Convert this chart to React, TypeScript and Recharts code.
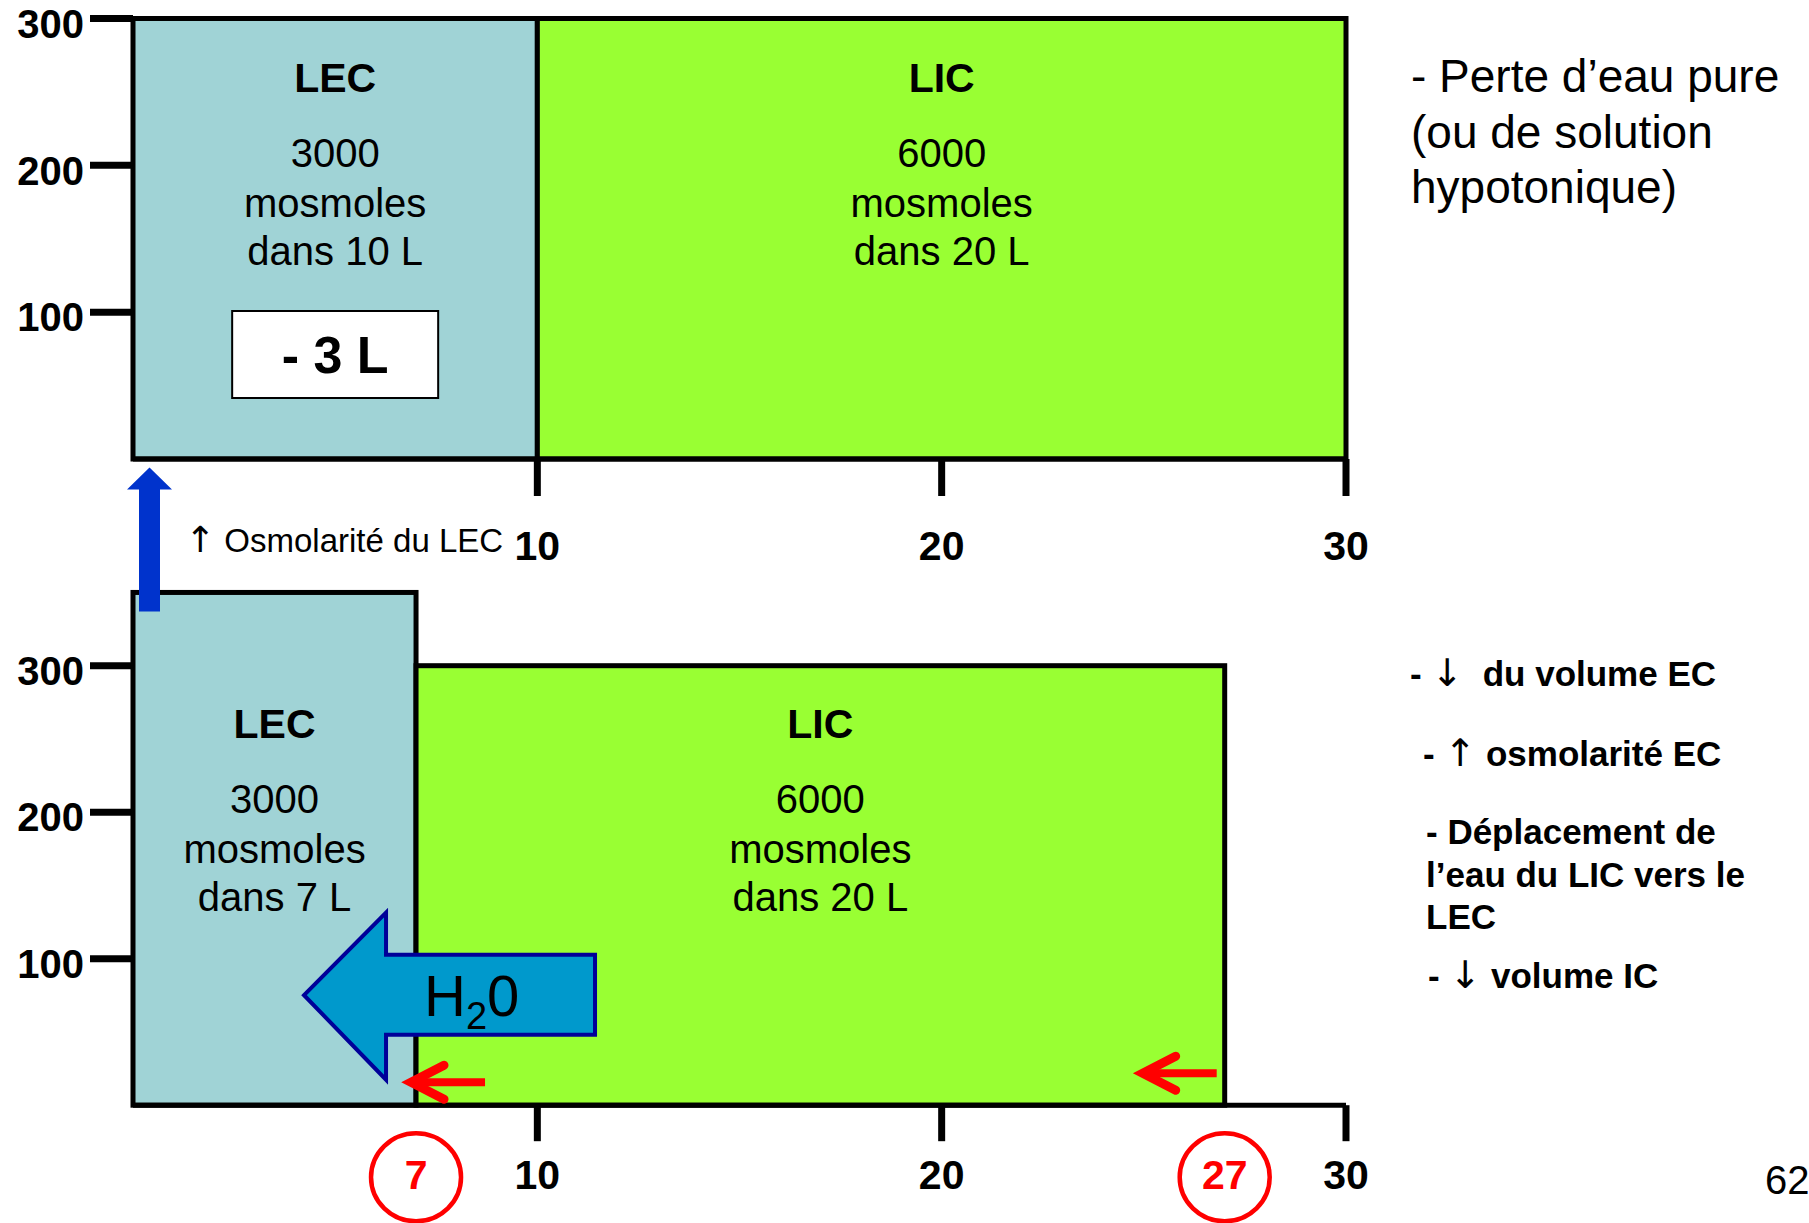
import React from 'react';
import { ComposedChart, XAxis, YAxis, ReferenceArea, ReferenceDot } from 'recharts';

// ---------------- data ----------------
const compartments = ['LEC', 'LIC'];
const compartmentColors = ['#A0D3D6', '#99FF33'];
const osmoles = [3000, 6000]; // mosmoles
const volumesBefore = [10, 20]; // L
const volumesAfter = [7, 20]; // L
const osmolarityBefore = [300, 300];
const osmolarityAfter = [350, 300]; // LEC
const waterLoss = 3; // L
const xTicks = [10, 20, 30];
const yTicks = [100, 200, 300];
const xDomain: [number, number] = [0, 30];
const yDomain: [number, number] = [0, 300];
const notesTop = ['- Perte d\u2019eau pure', '(ou de solution', 'hypotonique)'];
const notesBottom = [
  '- \u2193  du volume EC',
  '- \u2191 osmolarit\u00e9 EC',
  '- D\u00e9placement de',
  'l\u2019eau du LIC vers le',
  'LEC',
  '- \u2193 volume IC',
];
const osmoNote = '\u2191 Osmolarit\u00e9 du LEC';
const slideNumber = '62';

// ---------------- layout / style ----------------
const FONT = '"Liberation Sans", Arial, Helvetica, sans-serif';
const ARROW_FONT = '"DejaVu Sans", sans-serif';
const W = 1809;
const H = 1223;
const PLOT_LEFT = 133;
const PLOT_RIGHT = 1346;
const notesBottomX = [1410, 1423, 1426, 1426, 1426, 1428];
const notesBottomY = [686, 766, 844, 887, 929, 988];
const notesTopY = [92, 148, 203];

const edges = (vols: number[]) =>
  vols.reduce<number[]>((acc, v) => [...acc, acc[acc.length - 1] + v], [0]);

const edgesBefore = edges(volumesBefore); // [0,10,30]
const edgesAfter = edges(volumesAfter); // [0,7,27]

type Box = { name: string; x1: number; x2: number; y2: number; osm: number; vol: number; fill: string };

const boxesTop: Box[] = compartments.map((name, i) => ({
  name,
  x1: edgesBefore[i],
  x2: edgesBefore[i + 1],
  y2: osmolarityBefore[i],
  osm: osmoles[i],
  vol: volumesBefore[i],
  fill: compartmentColors[i],
}));

const boxesBottom: Box[] = compartments.map((name, i) => ({
  name,
  x1: edgesAfter[i],
  x2: edgesAfter[i + 1],
  y2: osmolarityAfter[i],
  osm: osmoles[i],
  vol: volumesAfter[i],
  fill: compartmentColors[i],
}));

const shiftedEdges = edgesAfter.slice(1); // [7, 27]
const bottomTicks = [...shiftedEdges, ...xTicks].sort((a, b) => a - b);

// render a string, drawing arrow glyphs with a font that has tall arrows
const withArrows = (t: string, arrowSize: number) =>
  t.split(/([\u2191\u2193])/).map((part, k) =>
    part === '\u2191' || part === '\u2193' ? (
      <tspan key={k} fontFamily={ARROW_FONT} fontWeight="normal" fontSize={arrowSize}>
        {part}
      </tspan>
    ) : (
      <tspan key={k}>{part}</tspan>
    )
  );

const renderBox = (box: Box, withLoss: boolean) => (p: any) => {
  const { x, y, width, height } = p;
  const cx = x + width / 2;
  const bottom = y + height;
  const lines = [`${box.osm}`, 'mosmoles', `dans ${box.vol} L`];
  const offs = [306, 256, 208];
  return (
    <g>
      <rect x={x} y={y} width={width} height={height} fill={box.fill} stroke="#000" strokeWidth={5} />
      <text x={cx} y={bottom - 381} textAnchor="middle" dominantBaseline="central" fontFamily={FONT} fontWeight="bold" fontSize={41} fill="#000">
        {box.name}
      </text>
      {lines.map((t, k) => (
        <text key={k} x={cx} y={bottom - offs[k]} textAnchor="middle" dominantBaseline="central" fontFamily={FONT} fontSize={40} fill="#000">
          {t}
        </text>
      ))}
      {withLoss && (
        <g>
          <rect x={cx - 103} y={bottom - 148} width={206} height={87} fill="#fff" stroke="#000" strokeWidth={2} />
          <text x={cx} y={bottom - 104} textAnchor="middle" dominantBaseline="central" fontFamily={FONT} fontWeight="bold" fontSize={52} fill="#000">
            {`- ${waterLoss} L`}
          </text>
        </g>
      )}
    </g>
  );
};

const makeXTick = (lineLen: number, labelDy: number, highlighted: number[]) => (props: any) => {
  const { x, y, payload } = props;
  const v = payload.value;
  if (highlighted.includes(v)) {
    return (
      <g>
        <ellipse cx={x} cy={y + labelDy + 2} rx={45} ry={44} fill="none" stroke="#FF0000" strokeWidth={4.5} />
        <text x={x} y={y + labelDy} textAnchor="middle" dominantBaseline="central" fontFamily={FONT} fontWeight="bold" fontSize={41} fill="#FF0000">
          {v}
        </text>
      </g>
    );
  }
  return (
    <g>
      <line x1={x} y1={y} x2={x} y2={y + lineLen} stroke="#000" strokeWidth={7} />
      <text x={x} y={y + labelDy} textAnchor="middle" dominantBaseline="central" fontFamily={FONT} fontWeight="bold" fontSize={41} fill="#000">
        {v}
      </text>
    </g>
  );
};

const WaterArrow = (p: any) => {
  const { cx, cy } = p;
  const pts = [
    [cx - 112, cy - 110],
    [cx - 30, cy - 192.5],
    [cx - 30, cy - 150.5],
    [cx + 179, cy - 150.5],
    [cx + 179, cy - 70.5],
    [cx - 30, cy - 70.5],
    [cx - 30, cy - 25.5],
  ]
    .map((q) => q.join(','))
    .join(' ');
  return (
    <g>
      <polygon points={pts} fill="#0099CC" stroke="#000099" strokeWidth={4} strokeLinejoin="miter" />
      <text x={cx + 8} y={cy - 89} fontFamily={FONT} fontSize={58} fill="#000">
        <tspan>H</tspan>
        <tspan fontSize={38} dy={13}>2</tspan>
        <tspan dy={-13}>0</tspan>
      </text>
    </g>
  );
};

const makeRedArrow = (tipDx: number, tailDx: number, dy: number) => (p: any) => {
  const { cx, cy } = p;
  const ty = cy + dy;
  const tx = cx + tipDx;
  return (
    <g stroke="#FF0000" strokeLinecap="round" fill="none">
      <line x1={tx + 4} y1={ty} x2={cx + tailDx} y2={ty} strokeWidth={8} strokeLinecap="butt" />
      <polyline points={`${tx + 33},${ty - 17} ${tx},${ty} ${tx + 33},${ty + 17}`} strokeWidth={9} strokeLinejoin="miter" />
    </g>
  );
};

const OsmoArrow = (p: any) => {
  const { cx, cy } = p;
  const pts = [
    [cx + 6, cy + 19],
    [cx + 6, cy - 103],
    [cx - 6, cy - 103],
    [cx + 16.5, cy - 125],
    [cx + 39, cy - 103],
    [cx + 27, cy - 103],
    [cx + 27, cy + 19],
  ]
    .map((q) => q.join(','))
    .join(' ');
  return (
    <g>
      <polygon points={pts} fill="#0033CC" stroke="none" />
      <text x={cx + 52} y={cy - 40} fontFamily={FONT} fontSize={33} fill="#000" style={{ whiteSpace: 'pre' }}>
        {withArrows(osmoNote, 36)}
      </text>
    </g>
  );
};

const yAxisProps = {
  type: 'number' as const,
  domain: yDomain,
  ticks: yTicks,
  width: PLOT_LEFT,
  axisLine: false,
  stroke: '#000',
  tickSize: 43,
  tickMargin: 6,
  tickLine: { stroke: '#000', strokeWidth: 7 },
  tick: { fill: '#000', fontSize: 40, fontWeight: 'bold', fontFamily: FONT, dy: 5 },
  allowDataOverflow: true,
  interval: 0 as const,
};

const TopChart = () => (
  <ComposedChart width={W} height={600} margin={{ top: 18.5, right: W - PLOT_RIGHT, bottom: 0, left: 0 }}>
    <XAxis
      type="number"
      dataKey="x"
      domain={xDomain}
      ticks={xTicks}
      height={141}
      interval={0}
      allowDataOverflow
      axisLine={{ stroke: '#000', strokeWidth: 5 }}
      tickLine={false}
      tickSize={0}
      tickMargin={0}
      tick={makeXTick(37, 87, [])}
    />
    <YAxis {...yAxisProps} />
    {boxesTop.map((b, i) => (
      <ReferenceArea
        key={b.name}
        x1={b.x1}
        x2={b.x2}
        y1={0}
        y2={b.y2}
        ifOverflow="visible"
        shape={renderBox(b, i === 0)}
      />
    ))}
  </ComposedChart>
);

const BottomChart = () => (
  <ComposedChart width={W} height={783} margin={{ top: 225.7, right: W - PLOT_RIGHT, bottom: 0, left: 0 }}>
    <XAxis
      type="number"
      dataKey="x"
      domain={xDomain}
      ticks={bottomTicks}
      height={117.8}
      interval={0}
      allowDataOverflow
      axisLine={{ stroke: '#000', strokeWidth: 5 }}
      tickLine={false}
      tickSize={0}
      tickMargin={0}
      tick={makeXTick(36, 70, shiftedEdges)}
    />
    <YAxis {...yAxisProps} />
    {boxesBottom.map((b) => (
      <ReferenceArea key={b.name} x1={b.x1} x2={b.x2} y1={0} y2={b.y2} ifOverflow="visible" shape={renderBox(b, false)} />
    ))}
    <ReferenceDot x={boxesBottom[0].x1} y={boxesBottom[0].y2} ifOverflow="visible" shape={OsmoArrow} />
    <ReferenceDot x={shiftedEdges[0]} y={0} ifOverflow="visible" shape={WaterArrow} />
    <ReferenceDot x={shiftedEdges[0]} y={0} ifOverflow="visible" shape={makeRedArrow(-5, 69, -23)} />
    <ReferenceDot x={shiftedEdges[1]} y={0} ifOverflow="visible" shape={makeRedArrow(-82, -8, -32)} />
  </ComposedChart>
);

export default function App() {
  return (
    <div style={{ position: 'absolute', left: 0, top: 0, width: W, height: H, background: '#fff', overflow: 'hidden' }}>
      <div style={{ position: 'absolute', left: 0, top: 0 }}>
        <TopChart />
      </div>
      <div style={{ position: 'absolute', left: 0, top: 440 }}>
        <BottomChart />
      </div>
      <svg width={W} height={H} style={{ position: 'absolute', left: 0, top: 0, pointerEvents: 'none' }}>
        {notesTop.map((t, i) => (
          <text key={t} x={1411} y={notesTopY[i]} fontFamily={FONT} fontSize={46} fill="#000">
            {t}
          </text>
        ))}
        {notesBottom.map((t, i) => (
          <text key={t} x={notesBottomX[i]} y={notesBottomY[i]} fontFamily={FONT} fontSize={35} fontWeight="bold" fill="#000" style={{ whiteSpace: 'pre' }}>
            {withArrows(t, 38)}
          </text>
        ))}
        <text x={1765} y={1194} fontFamily={FONT} fontSize={40} fill="#000">
          {slideNumber}
        </text>
      </svg>
    </div>
  );
}
